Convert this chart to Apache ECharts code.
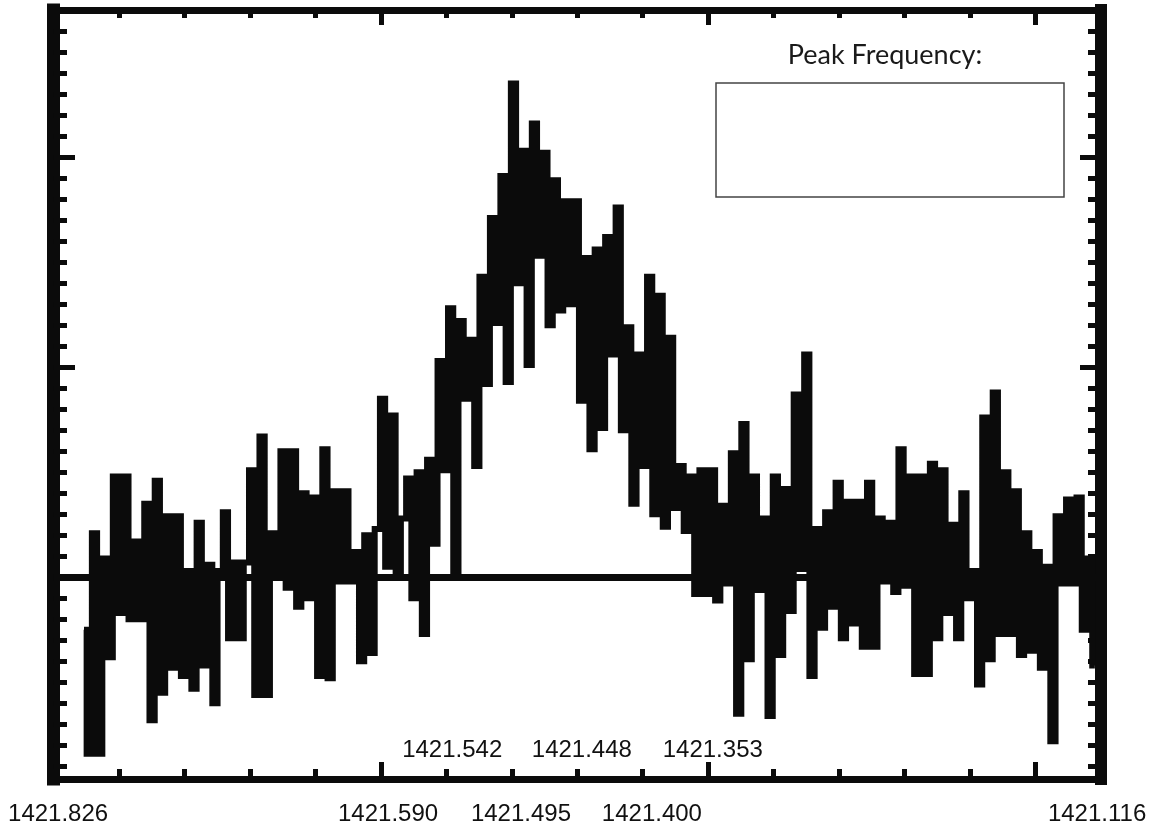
<!DOCTYPE html>
<html>
<head>
<meta charset="utf-8">
<script src="https://cdn.jsdelivr.net/npm/echarts@6.0.0/dist/echarts.min.js"></script>
<style>
html, body { margin: 0; padding: 0; background: #fff; }
#spectrum-chart { width: 1162px; height: 827px; }
</style>
</head>
<body>
<div id="spectrum-chart"></div>
<script>
// channel layout along the frequency axis (axis unit = one minor tick)
const CHANNEL_START = 0.466;
const CHANNEL_STEP = 0.08;

// antenna signal per channel (axis unit = one minor tick, 0 = baseline)
const SIGNAL = [
  -2.5, -8.4, 2.1, -8.4, 0.9, -3.8, 4.8, -1.7, 4.8, -2.0,
  1.7, -2.0, 3.5, -6.8, 4.6, -5.5, 2.9, -4.3, 2.9, -4.7,
  0.3, -5.3, 2.6, -4.2, 0.6, -6.0, 0.3, 3.1, -2.9, 0.7,
  -2.9, 0.7, 5.1, -5.6, 6.7, -5.6, 2.1, 0.0, 6.0, -0.5,
  6.0, -1.4, 4.0, -1.0, 3.8, -4.7, 6.1, -4.8, 4.1, -0.2,
  4.1, -0.2, 1.2, -4.0, 2.0, -3.6, 2.3, 8.5, 0.5, 7.7,
  0.0, 2.8, 4.7, -1.0, 5.0, -2.7, 5.6, 1.6, 10.3, 5.1,
  12.8, 0.0, 12.2, 8.5, 11.3, 5.3, 14.3, 9.2, 17.1, 12.1,
  19.1, 9.3, 23.5, 14.0, 20.3, 10.1, 21.6, 15.3, 20.2, 12.0,
  18.9, 12.7, 17.9, 13.0, 17.9, 8.4, 15.2, 6.1, 15.6, 7.1,
  16.2, 10.6, 17.6, 7.0, 11.9, 3.5, 10.6, 5.3, 14.3, 3.0,
  13.4, 2.4, 11.4, 3.3, 5.3, 2.2, 4.8, -0.8, 5.1, -0.8,
  5.1, -1.1, 3.4, -0.3, 5.9, -6.5, 7.3, -3.9, 4.8, -0.6,
  2.8, -6.6, 4.8, -3.7, 4.2, -1.6, 8.7, 0.4, 10.6, -4.7,
  2.3, -2.4, 3.1, -1.4, 4.5, -2.9, 3.6, -2.2, 3.6, -3.3,
  4.5, -3.3, 2.8, -0.2, 2.6, -0.7, 6.1, -0.4, 4.8, -4.6,
  4.8, -4.6, 5.4, -2.9, 5.1, -1.7, 2.5, -2.9, 4.0, -1.0,
  0.3, -5.1, 7.6, -3.9, 8.8, -2.7, 5.0, -2.7, 4.1, -3.7,
  2.1, -3.5, 1.2, -4.3, 0.5, -7.8, 2.9, -0.3, 3.7, -0.3,
  3.8, -2.5, 0.9, -4.2
];
const BASELINE = 0;

// frame extents and tick marks
const X_MIN = 0;
const X_MAX = 16;
const X_MAJOR = [5, 10, 15];
const X_MINOR = [1, 2, 3, 4, 6, 7, 8, 9, 11, 12, 13, 14];
const Y_MIN = -9.6;
const Y_MAX = 27;
const Y_MAJOR = [0, 10, 20];
const Y_MINOR = [-9, -8, -7, -6, -5, -4, -3, -2, -1, 1, 2, 3, 4, 5, 6, 7, 8, 9,
  11, 12, 13, 14, 15, 16, 17, 18, 19, 21, 22, 23, 24, 25, 26];

// frequency labels (MHz): row under the frame and row just inside it
const LOWER_LABELS = ['1421.826', '1421.590', '1421.495', '1421.400', '1421.116'];
const LOWER_POS = [0.07, 5.11, 7.14, 9.14, 15.94];
const UPPER_LABELS = ['1421.542', '1421.448', '1421.353'];
const UPPER_POS = [6.09, 8.07, 10.07];

const INK = '#0b0b0b';
const LABEL_FONT = {fontFamily: 'Liberation Sans, Arial, sans-serif', fontSize: 24, color: '#111'};

const frameAxis = (kind, position, lineWidth, ticks, tickLen) => ({
  type: 'value',
  position,
  min: kind === 'x' ? X_MIN : Y_MIN,
  max: kind === 'x' ? X_MAX : Y_MAX,
  axisLine: {show: lineWidth > 0, onZero: false, lineStyle: {color: INK, width: lineWidth, cap: 'square'}},
  axisTick: {show: true, inside: true, customValues: ticks, length: tickLen, lineStyle: {color: INK, width: 5}},
  axisLabel: {show: false},
  splitLine: {show: false}
});

const chartDom = document.getElementById('spectrum-chart');
const myChart = echarts.init(chartDom);

const bottomMajor = frameAxis('x', 'bottom', 7, X_MAJOR, 17);
bottomMajor.axisLabel = Object.assign({
  show: true,
  customValues: LOWER_POS,
  formatter: (v) => LOWER_LABELS[LOWER_POS.indexOf(v)],
  margin: 23,
  showMinLabel: true,
  showMaxLabel: true
}, LABEL_FONT);

const bottomMinor = frameAxis('x', 'bottom', 0, X_MINOR, 10);
bottomMinor.axisLabel = Object.assign({
  show: true,
  inside: true,
  customValues: UPPER_POS,
  formatter: (v) => UPPER_LABELS[UPPER_POS.indexOf(v)],
  margin: 17,
  showMinLabel: true,
  showMaxLabel: true
}, LABEL_FONT);

const option = {
  animation: false,
  backgroundColor: '#fff',
  grid: {left: 53.5, right: 61, top: 10, bottom: 48, containLabel: false},
  xAxis: [
    bottomMajor,
    bottomMinor,
    frameAxis('x', 'top', 7, X_MAJOR, 15),
    frameAxis('x', 'top', 0, X_MINOR, 8)
  ],
  yAxis: [
    frameAxis('y', 'left', 13, Y_MAJOR, 21.5),
    frameAxis('y', 'left', 0, Y_MINOR, 13.5),
    frameAxis('y', 'right', 12, Y_MAJOR, 21),
    frameAxis('y', 'right', 0, Y_MINOR, 13)
  ],
  graphic: [
    {
      type: 'text',
      x: 885,
      y: 55,
      style: {
        text: 'Peak Frequency:',
        font: '27px Lato, "Open Sans", sans-serif',
        fill: '#1a1a1a',
        textAlign: 'center',
        textVerticalAlign: 'middle'
      }
    },
    {
      type: 'rect',
      shape: {x: 716, y: 83, width: 348, height: 114},
      style: {fill: 'rgba(0,0,0,0)', stroke: '#444', lineWidth: 1.5}
    }
  ],
  series: [
    {
      type: 'line',
      step: 'middle',
      xAxisIndex: 0,
      yAxisIndex: 0,
      symbol: 'none',
      data: SIGNAL.map((v, i) => [CHANNEL_START + i * CHANNEL_STEP, v]),
      lineStyle: {color: INK, width: 6, join: 'miter'},
      markLine: {
        silent: true,
        symbol: 'none',
        label: {show: false},
        lineStyle: {color: INK, width: 7, type: 'solid'},
        data: [{yAxis: BASELINE}]
      }
    }
  ]
};

option && myChart.setOption(option);
</script>
</body>
</html>
